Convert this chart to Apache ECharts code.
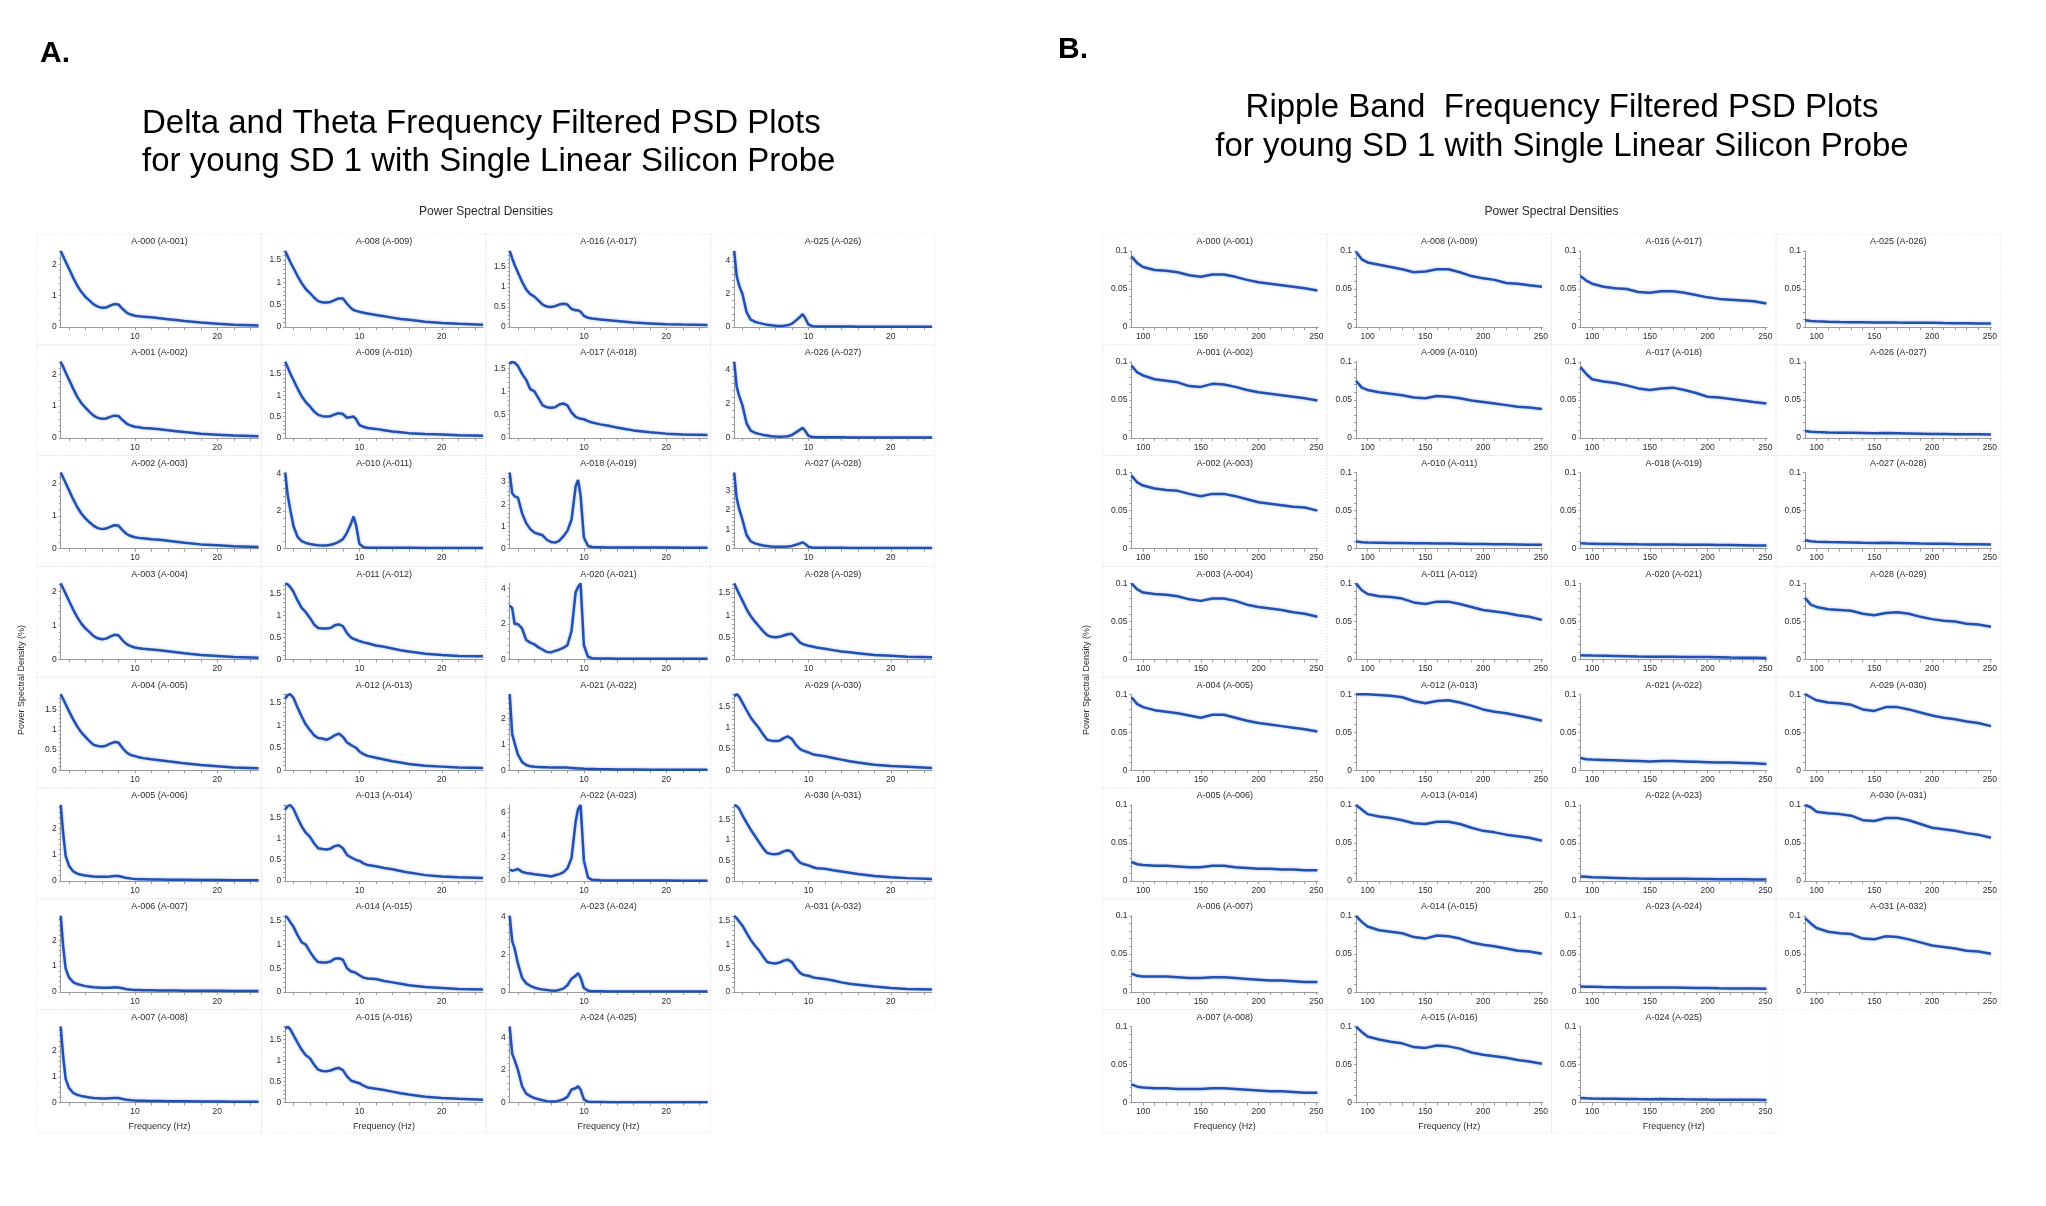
<!DOCTYPE html>
<html><head><meta charset="utf-8">
<script src="https://cdn.jsdelivr.net/npm/echarts@6/dist/echarts.min.js"></script>
<style>html,body{margin:0;padding:0;background:#fff}#main{width:2046px;height:1206px}</style>
</head><body><div id="main"></div>
<script>
// ---------- labels ----------
const cellLabels = [
 'A-000 (A-001)','A-001 (A-002)','A-002 (A-003)','A-003 (A-004)','A-004 (A-005)','A-005 (A-006)','A-006 (A-007)','A-007 (A-008)',
 'A-008 (A-009)','A-009 (A-010)','A-010 (A-011)','A-011 (A-012)','A-012 (A-013)','A-013 (A-014)','A-014 (A-015)','A-015 (A-016)',
 'A-016 (A-017)','A-017 (A-018)','A-018 (A-019)','A-020 (A-021)','A-021 (A-022)','A-022 (A-023)','A-023 (A-024)','A-024 (A-025)',
 'A-025 (A-026)','A-026 (A-027)','A-027 (A-028)','A-028 (A-029)','A-029 (A-030)','A-030 (A-031)','A-031 (A-032)'
];
const titleA = ['Delta and Theta Frequency Filtered PSD Plots','for young SD 1 with Single Linear Silicon Probe'];
const titleB = ['Ripple Band  Frequency Filtered PSD Plots','for young SD 1 with Single Linear Silicon Probe'];
const xLabelsA = [10, 20];
const xLabelsB = [100, 150, 200, 250];
const yLabelsB = [0, 0.05, 0.1];
// y label step per cell in panel A (column-major order as cellLabels)
const yStepA = [1,1,1,1,0.5,1,1,1, 0.5,0.5,2,0.5,0.5,0.5,0.5,0.5, 0.5,0.5,1,2,1,2,2,2, 2,2,1,0.5,0.5,0.5,0.5];

// ---------- Panel A: delta/theta band (1-25 Hz) ----------
const freqA = [1,1.3,1.6,2,2.5,3,3.5,4,4.5,5,5.5,6,6.5,7,7.5,8,8.5,9,9.3,9.6,10,10.5,11,12,13,14,15,16,18,20,22,25];
const dt_A000 = [2.42,2.25,2.08,1.86,1.58,1.32,1.12,0.96,0.84,0.72,0.65,0.61,0.62,0.68,0.73,0.72,0.58,0.46,0.42,0.39,0.36,0.34,0.33,0.31,0.28,0.25,0.22,0.19,0.14,0.10,0.07,0.05];
const dt_A001 = [2.40,2.24,2.06,1.84,1.56,1.30,1.10,0.95,0.82,0.70,0.63,0.60,0.61,0.66,0.70,0.69,0.56,0.45,0.41,0.38,0.35,0.33,0.31,0.29,0.27,0.24,0.21,0.18,0.13,0.10,0.07,0.05];
const dt_A002 = [2.34,2.18,2.02,1.80,1.53,1.28,1.08,0.93,0.81,0.70,0.63,0.60,0.62,0.67,0.72,0.71,0.57,0.45,0.41,0.38,0.35,0.33,0.32,0.29,0.27,0.24,0.21,0.18,0.13,0.10,0.07,0.05];
const dt_A003 = [2.23,2.08,1.93,1.72,1.47,1.24,1.05,0.91,0.80,0.68,0.62,0.59,0.61,0.67,0.72,0.71,0.56,0.45,0.41,0.38,0.35,0.33,0.31,0.29,0.27,0.24,0.21,0.18,0.13,0.10,0.07,0.05];
const dt_A004 = [1.89,1.77,1.64,1.47,1.27,1.09,0.94,0.83,0.72,0.63,0.60,0.59,0.61,0.66,0.70,0.69,0.55,0.44,0.40,0.37,0.35,0.32,0.30,0.27,0.25,0.22,0.20,0.17,0.13,0.10,0.07,0.05];
const dt_A005 = [2.88,1.80,0.95,0.58,0.37,0.28,0.24,0.21,0.19,0.17,0.16,0.16,0.16,0.17,0.19,0.19,0.15,0.11,0.10,0.09,0.08,0.07,0.07,0.06,0.06,0.05,0.05,0.05,0.04,0.04,0.03,0.03];
const dt_A006 = [2.95,1.75,0.90,0.56,0.38,0.30,0.26,0.22,0.20,0.18,0.17,0.16,0.16,0.16,0.18,0.17,0.14,0.10,0.09,0.08,0.07,0.07,0.06,0.06,0.05,0.05,0.05,0.04,0.04,0.04,0.03,0.03];
const dt_A007 = [2.95,1.78,0.92,0.57,0.38,0.30,0.26,0.23,0.20,0.18,0.17,0.16,0.16,0.17,0.18,0.18,0.14,0.11,0.10,0.09,0.08,0.07,0.07,0.06,0.06,0.05,0.05,0.05,0.04,0.04,0.03,0.03];
const dt_A008 = [1.70,1.58,1.46,1.32,1.14,0.98,0.85,0.76,0.66,0.58,0.55,0.55,0.56,0.60,0.64,0.64,0.52,0.42,0.38,0.36,0.34,0.32,0.30,0.27,0.24,0.21,0.18,0.16,0.12,0.09,0.07,0.05];
const dt_A009 = [1.79,1.66,1.52,1.36,1.16,0.98,0.84,0.74,0.62,0.54,0.51,0.50,0.51,0.55,0.58,0.56,0.47,0.49,0.50,0.44,0.30,0.26,0.23,0.21,0.18,0.15,0.13,0.11,0.09,0.08,0.06,0.05];
const dt_A010 = [4.03,2.85,2.10,1.20,0.62,0.40,0.30,0.24,0.20,0.18,0.17,0.17,0.20,0.26,0.36,0.50,0.85,1.35,1.70,1.25,0.25,0.07,0.05,0.04,0.04,0.04,0.04,0.04,0.03,0.03,0.03,0.03];
const dt_A011 = [1.74,1.72,1.66,1.55,1.35,1.18,1.08,0.95,0.80,0.72,0.71,0.71,0.72,0.78,0.80,0.76,0.60,0.50,0.47,0.45,0.42,0.39,0.37,0.32,0.29,0.25,0.21,0.18,0.13,0.10,0.08,0.07];
const dt_A012 = [1.60,1.68,1.70,1.62,1.40,1.20,1.02,0.90,0.78,0.72,0.71,0.68,0.72,0.78,0.82,0.75,0.62,0.56,0.53,0.50,0.42,0.36,0.32,0.28,0.24,0.20,0.17,0.14,0.10,0.08,0.06,0.05];
const dt_A013 = [1.70,1.78,1.81,1.72,1.50,1.30,1.15,1.05,0.90,0.78,0.76,0.75,0.77,0.83,0.85,0.78,0.62,0.56,0.53,0.50,0.48,0.42,0.38,0.35,0.31,0.28,0.24,0.20,0.14,0.11,0.09,0.07];
const dt_A014 = [1.61,1.56,1.48,1.38,1.20,1.05,1.00,0.85,0.72,0.63,0.62,0.62,0.64,0.70,0.71,0.68,0.50,0.43,0.42,0.40,0.35,0.30,0.28,0.27,0.23,0.20,0.17,0.14,0.10,0.08,0.06,0.05];
const dt_A015 = [1.75,1.80,1.74,1.60,1.42,1.25,1.12,1.05,0.90,0.78,0.75,0.74,0.76,0.80,0.82,0.77,0.62,0.52,0.50,0.48,0.46,0.40,0.36,0.33,0.30,0.26,0.22,0.19,0.14,0.11,0.09,0.07];
const dt_A016 = [1.90,1.72,1.55,1.36,1.13,0.94,0.82,0.76,0.66,0.56,0.51,0.50,0.52,0.56,0.58,0.56,0.45,0.42,0.42,0.38,0.28,0.23,0.21,0.19,0.17,0.15,0.13,0.11,0.09,0.07,0.06,0.05];
const dt_A017 = [1.60,1.64,1.62,1.55,1.38,1.25,1.05,1.00,0.85,0.70,0.66,0.65,0.66,0.72,0.74,0.70,0.55,0.45,0.43,0.41,0.40,0.36,0.33,0.29,0.26,0.22,0.19,0.16,0.12,0.09,0.07,0.06];
const dt_A018 = [3.43,2.50,2.36,2.30,1.60,1.15,0.88,0.72,0.66,0.60,0.40,0.30,0.27,0.35,0.55,0.80,1.30,2.80,3.10,2.40,0.50,0.12,0.07,0.06,0.05,0.05,0.05,0.05,0.05,0.05,0.04,0.04];
const dt_A020 = [3.05,2.90,2.00,2.00,1.75,1.10,0.95,0.85,0.68,0.55,0.42,0.40,0.48,0.55,0.65,0.80,1.60,3.80,4.10,4.30,0.80,0.15,0.07,0.05,0.05,0.04,0.04,0.04,0.04,0.04,0.03,0.03];
const dt_A021 = [2.95,1.40,1.05,0.60,0.32,0.20,0.15,0.13,0.12,0.11,0.11,0.10,0.10,0.10,0.10,0.10,0.09,0.08,0.07,0.07,0.06,0.05,0.05,0.04,0.04,0.03,0.03,0.03,0.02,0.02,0.02,0.02];
const dt_A022 = [1.00,0.90,0.95,1.05,0.80,0.70,0.65,0.60,0.55,0.50,0.45,0.40,0.50,0.60,0.75,1.10,2.00,5.20,6.30,6.65,1.80,0.30,0.10,0.06,0.05,0.05,0.05,0.04,0.04,0.04,0.03,0.03];
const dt_A023 = [4.05,2.70,2.30,1.50,0.75,0.45,0.32,0.22,0.16,0.12,0.09,0.07,0.06,0.10,0.17,0.35,0.70,0.85,1.00,0.75,0.20,0.06,0.03,0.03,0.02,0.02,0.02,0.02,0.02,0.02,0.02,0.02];
const dt_A024 = [4.65,3.00,2.60,2.00,1.00,0.55,0.40,0.28,0.20,0.14,0.09,0.06,0.06,0.12,0.20,0.35,0.80,0.88,1.00,0.80,0.20,0.05,0.03,0.03,0.02,0.02,0.02,0.02,0.02,0.02,0.02,0.02];
const dt_A025 = [4.60,3.10,2.50,2.00,0.90,0.45,0.32,0.25,0.19,0.14,0.10,0.07,0.06,0.07,0.10,0.20,0.40,0.62,0.78,0.55,0.15,0.05,0.03,0.03,0.03,0.03,0.03,0.02,0.02,0.02,0.02,0.02];
const dt_A026 = [4.45,3.00,2.45,1.90,0.85,0.42,0.30,0.23,0.17,0.13,0.09,0.07,0.06,0.07,0.09,0.16,0.32,0.48,0.58,0.42,0.12,0.04,0.03,0.03,0.03,0.03,0.02,0.02,0.02,0.02,0.02,0.02];
const dt_A027 = [3.93,2.60,2.05,1.50,0.70,0.38,0.27,0.21,0.16,0.13,0.11,0.10,0.10,0.10,0.11,0.14,0.20,0.27,0.32,0.25,0.10,0.05,0.04,0.04,0.04,0.04,0.03,0.03,0.03,0.03,0.03,0.03];
const dt_A028 = [1.72,1.60,1.48,1.33,1.14,0.98,0.86,0.75,0.64,0.55,0.51,0.50,0.51,0.54,0.57,0.58,0.48,0.38,0.35,0.33,0.31,0.29,0.27,0.24,0.21,0.18,0.16,0.14,0.10,0.08,0.06,0.05];
const dt_A029 = [1.75,1.80,1.74,1.60,1.42,1.25,1.12,1.00,0.85,0.72,0.70,0.69,0.70,0.76,0.80,0.74,0.60,0.50,0.47,0.45,0.42,0.38,0.36,0.33,0.29,0.25,0.21,0.18,0.13,0.10,0.08,0.05];
const dt_A030 = [1.85,1.82,1.76,1.60,1.42,1.25,1.10,0.95,0.80,0.68,0.66,0.65,0.67,0.72,0.75,0.70,0.55,0.45,0.42,0.40,0.38,0.34,0.31,0.30,0.26,0.23,0.20,0.17,0.12,0.09,0.07,0.05];
const dt_A031 = [1.61,1.56,1.49,1.40,1.25,1.10,0.98,0.88,0.75,0.63,0.61,0.60,0.62,0.66,0.68,0.63,0.50,0.40,0.37,0.35,0.34,0.31,0.29,0.27,0.24,0.20,0.17,0.15,0.11,0.08,0.06,0.05];
const deltaSeries = [dt_A000,dt_A001,dt_A002,dt_A003,dt_A004,dt_A005,dt_A006,dt_A007,
  dt_A008,dt_A009,dt_A010,dt_A011,dt_A012,dt_A013,dt_A014,dt_A015,
  dt_A016,dt_A017,dt_A018,dt_A020,dt_A021,dt_A022,dt_A023,dt_A024,
  dt_A025,dt_A026,dt_A027,dt_A028,dt_A029,dt_A030,dt_A031];

// ---------- Panel B: ripple band (90-250 Hz) ----------
const freqB = [90,95,100,110,120,130,140,150,160,170,180,190,200,210,220,230,240,251];
const rp_A000 = [0.093,0.084,0.079,0.075,0.074,0.072,0.068,0.066,0.069,0.069,0.066,0.062,0.059,0.057,0.055,0.053,0.051,0.048];
const rp_A001 = [0.095,0.086,0.082,0.077,0.075,0.073,0.068,0.067,0.071,0.070,0.067,0.063,0.060,0.058,0.056,0.054,0.052,0.049];
const rp_A002 = [0.096,0.087,0.083,0.079,0.077,0.076,0.072,0.069,0.072,0.072,0.069,0.065,0.061,0.059,0.057,0.055,0.054,0.050];
const rp_A003 = [0.100,0.092,0.088,0.086,0.085,0.083,0.079,0.077,0.080,0.080,0.077,0.072,0.069,0.067,0.065,0.062,0.060,0.056];
const rp_A004 = [0.096,0.087,0.083,0.079,0.077,0.075,0.072,0.069,0.073,0.073,0.069,0.065,0.062,0.060,0.058,0.056,0.054,0.051];
const rp_A005 = [0.025,0.022,0.021,0.020,0.020,0.019,0.018,0.018,0.020,0.020,0.018,0.017,0.016,0.016,0.015,0.015,0.014,0.014];
const rp_A006 = [0.024,0.021,0.020,0.020,0.020,0.019,0.018,0.018,0.019,0.019,0.018,0.017,0.016,0.015,0.015,0.014,0.013,0.013];
const rp_A007 = [0.024,0.021,0.020,0.019,0.019,0.018,0.018,0.018,0.019,0.019,0.018,0.017,0.016,0.015,0.015,0.014,0.013,0.013];
const rp_A008 = [0.099,0.089,0.085,0.082,0.079,0.076,0.072,0.073,0.076,0.076,0.072,0.067,0.064,0.062,0.058,0.057,0.055,0.053];
const rp_A009 = [0.075,0.066,0.063,0.060,0.058,0.056,0.053,0.052,0.055,0.054,0.052,0.049,0.047,0.045,0.043,0.041,0.040,0.038];
const rp_A010 = [0.0095,0.0085,0.008,0.0078,0.0075,0.0073,0.007,0.007,0.0068,0.0066,0.0064,0.0062,0.006,0.0058,0.0056,0.0054,0.0052,0.005];
const rp_A011 = [0.100,0.091,0.086,0.083,0.082,0.080,0.075,0.073,0.076,0.076,0.073,0.069,0.065,0.063,0.061,0.058,0.056,0.052];
const rp_A012 = [0.100,0.100,0.100,0.099,0.098,0.096,0.091,0.088,0.091,0.092,0.089,0.085,0.080,0.077,0.075,0.072,0.069,0.065];
const rp_A013 = [0.100,0.094,0.088,0.085,0.083,0.080,0.076,0.075,0.078,0.078,0.075,0.070,0.066,0.064,0.061,0.059,0.057,0.053];
const rp_A014 = [0.100,0.092,0.086,0.081,0.079,0.077,0.072,0.070,0.074,0.073,0.070,0.065,0.062,0.060,0.057,0.054,0.053,0.050];
const rp_A015 = [0.100,0.093,0.087,0.083,0.080,0.078,0.073,0.072,0.075,0.074,0.071,0.066,0.063,0.061,0.059,0.056,0.054,0.051];
const rp_A016 = [0.067,0.061,0.057,0.053,0.051,0.050,0.046,0.045,0.047,0.047,0.045,0.042,0.039,0.037,0.036,0.035,0.034,0.031];
const rp_A017 = [0.093,0.084,0.077,0.074,0.072,0.069,0.065,0.063,0.065,0.066,0.063,0.059,0.054,0.053,0.051,0.049,0.047,0.045];
const rp_A018 = [0.007,0.0066,0.0065,0.0062,0.006,0.0058,0.0056,0.0055,0.0054,0.0053,0.0052,0.0051,0.005,0.0048,0.0046,0.0044,0.0042,0.004];
const rp_A020 = [0.0055,0.0052,0.005,0.0047,0.0044,0.0041,0.0038,0.0036,0.0035,0.0034,0.0033,0.0032,0.003,0.0028,0.0024,0.0022,0.0021,0.002];
const rp_A021 = [0.016,0.0145,0.014,0.0135,0.013,0.0125,0.012,0.0115,0.012,0.012,0.0115,0.011,0.0105,0.010,0.010,0.0095,0.009,0.008];
const rp_A022 = [0.006,0.0055,0.005,0.0045,0.004,0.0035,0.0032,0.003,0.003,0.0029,0.0028,0.0026,0.0025,0.0024,0.0023,0.0022,0.0021,0.002];
const rp_A023 = [0.007,0.0066,0.0065,0.0062,0.006,0.0058,0.0056,0.0055,0.0055,0.0055,0.0053,0.0051,0.005,0.0047,0.0045,0.0043,0.0042,0.004];
const rp_A024 = [0.006,0.0057,0.0055,0.0052,0.005,0.0048,0.0046,0.0045,0.0046,0.0045,0.0043,0.0042,0.004,0.0039,0.0038,0.0037,0.0036,0.0035];
const rp_A025 = [0.009,0.0078,0.0075,0.007,0.0066,0.0064,0.0062,0.006,0.006,0.0058,0.0057,0.0056,0.0055,0.0052,0.005,0.0048,0.0046,0.0045];
const rp_A026 = [0.009,0.008,0.0075,0.007,0.0068,0.0066,0.0063,0.006,0.0062,0.006,0.0057,0.0054,0.005,0.005,0.0048,0.0047,0.0046,0.0045];
const rp_A027 = [0.011,0.0098,0.009,0.0086,0.0083,0.008,0.0077,0.0075,0.0076,0.0074,0.0072,0.0068,0.0065,0.0063,0.006,0.0058,0.0057,0.0055];
const rp_A028 = [0.081,0.072,0.069,0.066,0.065,0.064,0.060,0.058,0.061,0.062,0.060,0.056,0.053,0.051,0.050,0.047,0.046,0.043];
const rp_A029 = [0.100,0.096,0.092,0.089,0.088,0.086,0.080,0.078,0.083,0.083,0.080,0.076,0.072,0.069,0.067,0.064,0.062,0.058];
const rp_A030 = [0.100,0.097,0.091,0.089,0.088,0.086,0.080,0.079,0.083,0.083,0.080,0.075,0.070,0.068,0.066,0.063,0.061,0.057];
const rp_A031 = [0.097,0.090,0.084,0.079,0.077,0.076,0.070,0.069,0.073,0.072,0.069,0.065,0.061,0.059,0.057,0.054,0.053,0.050];
const rippleSeries = [rp_A000,rp_A001,rp_A002,rp_A003,rp_A004,rp_A005,rp_A006,rp_A007,
  rp_A008,rp_A009,rp_A010,rp_A011,rp_A012,rp_A013,rp_A014,rp_A015,
  rp_A016,rp_A017,rp_A018,rp_A020,rp_A021,rp_A022,rp_A023,rp_A024,
  rp_A025,rp_A026,rp_A027,rp_A028,rp_A029,rp_A030,rp_A031];

// ---------- layout / build ----------
const FONT = '"Liberation Sans", Arial, Helvetica, sans-serif';
const CELL_W = 224.5, ROW_H = 110.8, TOP0 = 234, LAST_H = 123.4;
const AXIS_C = '#9a9a9a', TXT_C = '#2b2b2b', LINE_C = '#2250b0';
const grids = [], xAxes = [], yAxes = [], series = [], graphics = [];

function range(a, b, s) { const out = []; for (let v = a; v <= b + s * 1e-6; v += s) out.push(Math.round(v * 1e6) / 1e6); return out; }

function buildPanel(p) {
  let k = 0;
  for (let c = 0; c < 4; c++) {
    for (let r = 0; r < 8; r++) {
      if (c === 3 && r === 7) continue;
      const cellLeft = p.left + c * CELL_W;
      const cellTop = TOP0 + r * ROW_H;
      const cellH = r === 7 ? LAST_H : ROW_H;
      const gL = cellLeft + p.plotL, gW = CELL_W - p.plotL - p.plotR;
      const vals = p.data[k];
      const yMax = p.yMax != null ? p.yMax : Math.max.apply(null, vals);
      const yLab = p.yMax != null ? yLabelsB : range(0, yMax, yStepA[k]);
      const yTk = p.yMax != null ? range(0, 0.1, 0.01) : range(0, yMax, yStepA[k] / 5);
      const idx = grids.length;
      grids.push({ left: gL, top: cellTop + 17, width: gW, height: 76 });
      xAxes.push({
        gridIndex: idx, type: 'value', min: p.xMin, max: p.xMax,
        axisLine: { show: true, lineStyle: { color: AXIS_C, width: 1 } },
        axisTick: { show: true, customValues: p.xTicks, length: 3, lineStyle: { color: AXIS_C } },
        axisLabel: { customValues: p.xLabels, fontSize: 8.5, fontFamily: FONT, color: TXT_C, margin: 5 },
        splitLine: { show: false },
        name: r === 7 ? 'Frequency (Hz)' : '', nameLocation: 'middle', nameGap: 19,
        nameTextStyle: { fontSize: 9, fontFamily: FONT, color: TXT_C }
      });
      yAxes.push({
        gridIndex: idx, type: 'value', min: 0, max: yMax,
        axisLine: { show: true, lineStyle: { color: AXIS_C, width: 1 } },
        axisTick: { show: true, customValues: yTk, length: 2, lineStyle: { color: AXIS_C } },
        axisLabel: { customValues: yLab, fontSize: 8.5, fontFamily: FONT, color: TXT_C, margin: 4 },
        splitLine: { show: false }
      });
      series.push({
        type: 'line', xAxisIndex: idx, yAxisIndex: idx, showSymbol: false, silent: true,
        data: p.freq.map((f, i) => [f, vals[i]]),
        lineStyle: { color: LINE_C, width: 2.5, shadowColor: 'rgba(110,140,225,0.6)', shadowBlur: 3 },
        animation: false
      });
      graphics.push({ type: 'rect', silent: true, z: -1,
        shape: { x: cellLeft, y: cellTop, width: CELL_W, height: cellH },
        style: { fill: null, stroke: '#e2e2e2', lineWidth: 1, lineDash: [1, 2] } });
      graphics.push({ type: 'text', silent: true, x: gL + gW / 2, y: cellTop + 8,
        style: { text: cellLabels[k], fontSize: 9, fontFamily: FONT, fill: TXT_C,
          align: 'center', verticalAlign: 'middle', textAlign: 'center', textVerticalAlign: 'middle' } });
      k++;
    }
  }
  // panel-level texts
  const midX = p.left + 2 * CELL_W;
  graphics.push({ type: 'text', silent: true, x: midX, y: 212,
    style: { text: 'Power Spectral Densities', fontSize: 12, fontFamily: FONT, fill: TXT_C,
      align: 'center', verticalAlign: 'middle', textAlign: 'center', textVerticalAlign: 'middle' } });
  graphics.push({ type: 'text', silent: true, x: p.yTitleX, y: 680, rotation: Math.PI / 2,
    style: { text: 'Power Spectral Density (%)', fontSize: 9, fontFamily: FONT, fill: TXT_C,
      align: 'center', verticalAlign: 'middle', textAlign: 'center', textVerticalAlign: 'middle' } });
  graphics.push({ type: 'text', silent: true, x: p.letterX, y: p.letterY,
    style: { text: p.letter, fontSize: 30, fontWeight: 'bold', fontFamily: FONT, fill: '#000',
      align: 'left', verticalAlign: 'middle', textAlign: 'left', textVerticalAlign: 'middle' } });
  p.title.forEach((t, i) => graphics.push({ type: 'text', silent: true, x: p.titleX, y: p.titleY[i],
    style: { text: t, fontSize: 33, fontFamily: FONT, fill: '#000',
      align: p.titleAlign, verticalAlign: 'middle', textAlign: p.titleAlign, textVerticalAlign: 'middle' } }));
}

buildPanel({ left: 37, plotL: 23.7, plotR: 3, data: deltaSeries, freq: freqA, xMin: 1, xMax: 25,
  xLabels: xLabelsA, xTicks: range(2, 24, 2), yMax: null,
  yTitleX: 22, letter: 'A.', letterX: 40, letterY: 54,
  title: titleA, titleX: 142, titleY: [124, 162], titleAlign: 'left' });
buildPanel({ left: 1102.5, plotL: 29, plotR: 9, data: rippleSeries, freq: freqB, xMin: 90, xMax: 251.5,
  xLabels: xLabelsB, xTicks: range(100, 250, 10), yMax: 0.1,
  yTitleX: 1087, letter: 'B.', letterX: 1058, letterY: 50,
  title: titleB, titleX: 1562, titleY: [108, 147], titleAlign: 'center' });

const chart = echarts.init(document.getElementById('main'), null, { renderer: 'canvas' });
chart.setOption({
  animation: false, backgroundColor: '#fff',
  grid: grids, xAxis: xAxes, yAxis: yAxes, series: series,
  graphic: { elements: graphics }
});
</script></body></html>
